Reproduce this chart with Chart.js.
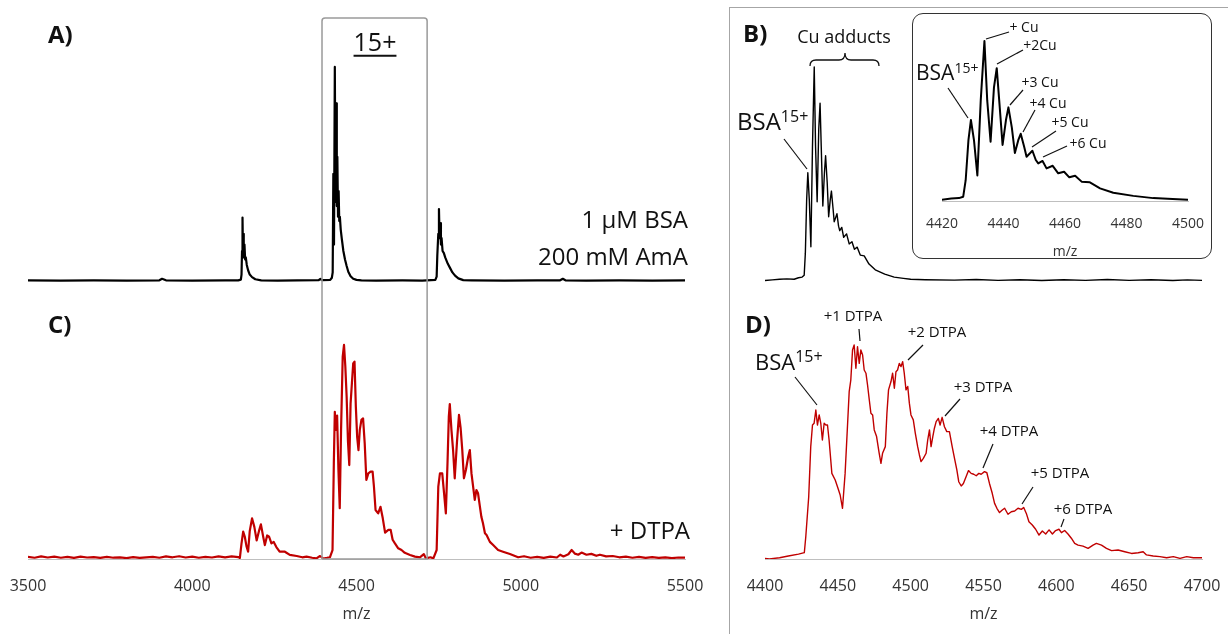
<!DOCTYPE html>
<html>
<head>
<meta charset="utf-8">
<script src="https://cdn.jsdelivr.net/npm/chart.js@4.4.1/dist/chart.umd.min.js"></script>
<style>
  html, body { margin: 0; padding: 0; background: #fff; }
  #page { position: relative; width: 1228px; height: 634px; overflow: hidden; font-family: 'Open Sans', sans-serif; color: #111; }
  canvas { position: absolute; }
  .lbl { position: absolute; white-space: nowrap; line-height: 1; }
  .lbl sup { line-height: 0; }
  #rightFrame { position: absolute; left: 729px; top: 7px; width: 520px; height: 650px; border-left: 1.3px solid #a6a6a6; border-top: 1.3px solid #a6a6a6; }
  #insetBox { position: absolute; left: 912px; top: 13px; width: 298px; height: 244px; border: 1.5px solid #333; border-radius: 11px; background: #fff; }
  #marks { position: absolute; left: 0; top: 0; }
</style>
</head>
<body>
<div id="page">
  <div id="rightFrame"></div>
  <canvas id="left" width="729" height="634" style="left:0;top:0"></canvas>
  <canvas id="right" width="498" height="626" style="left:730px;top:8px"></canvas>
  <div id="insetBox"></div>
  <canvas id="inset" width="297" height="247" style="left:914px;top:15px"></canvas>
  <svg id="marks" width="1228" height="634"></svg>
</div>
<script>
// ---- data: [m/z, relative intensity] ----
// A) 1 uM BSA in 200 mM AmA
const specA = [
  [3500, 0.3], [3600, 0.2], [3700, 0.3], [3800, 0.2], [3900, 0.3], [3908, 1], [3912, 0.8], [3920, 0.3],
  [4000, 0.2], [4100, 0.3], [4140, 0.3], [4148, 0.6], [4150, 3], [4151.5, 14], [4153, 29.6], [4154.5, 12],
  [4156, 22], [4157.5, 11], [4159, 17], [4161, 10], [4163, 11], [4166, 7.5], [4170, 5], [4175, 3],
  [4182, 1.8], [4192, 0.8], [4210, 0.3], [4260, 0.2], [4320, 0.3], [4385, 0.4], [4390, 1], [4395, 0.4],
  [4420, 0.5], [4425, 1.5], [4427.5, 4], [4429.5, 50], [4431.5, 17], [4434, 100], [4436, 37], [4438, 83],
  [4440, 35], [4441.7, 58], [4443.7, 30], [4445.6, 42], [4447.5, 28], [4449.4, 30], [4452, 24], [4455, 20],
  [4460, 14], [4465, 10], [4470, 7], [4475, 4.3], [4482, 2.2], [4490, 1], [4500, 0.5], [4515, 0.3],
  [4560, 0.2], [4640, 0.3], [4700, 0.2], [4740, 0.5], [4744, 2], [4746, 12], [4749, 22], [4751, 33.6],
  [4753, 20], [4755, 27], [4757, 17], [4759, 20], [4762, 14], [4766, 13], [4770, 11], [4778, 8],
  [4785, 6], [4792, 4], [4800, 2.5], [4810, 1.2], [4825, 0.4], [4850, 0.3], [4950, 0.2], [5050, 0.3],
  [5120, 0.3], [5128, 1], [5136, 0.3], [5200, 0.2], [5300, 0.3], [5400, 0.2], [5500, 0.3]
];

// C) + DTPA
const specC = [
  [3500, 1], [3520, 0.6], [3540, 1.2], [3560, 0.7], [3580, 1.1], [3600, 0.6], [3620, 1.0], [3640, 0.5],
  [3660, 1.1], [3680, 0.7], [3700, 0.9], [3720, 0.5], [3740, 1.0], [3760, 0.6], [3780, 0.8], [3800, 0.4],
  [3820, 0.9], [3840, 0.5], [3860, 0.8], [3880, 1.0], [3900, 0.6], [3920, 1.2], [3940, 0.8], [3960, 1.3],
  [3980, 0.7], [4000, 1.1], [4020, 0.6], [4040, 1.0], [4060, 0.7], [4080, 1.2], [4100, 0.8], [4120, 1.2],
  [4140, 0.9], [4145, 0.5], [4150, 7.3], [4155, 12.8], [4160, 10.4], [4165, 6], [4170, 3.4], [4175, 13],
  [4182, 19], [4189, 15], [4196, 8.7], [4203, 13], [4209, 16.2], [4216, 10.4], [4221, 6.5], [4228, 11],
  [4234, 10.4], [4241, 7.3], [4248, 8], [4256, 5.6], [4266, 3.4], [4282, 3.4], [4297, 1.9], [4318, 1.4],
  [4335, 0.8], [4348, 1.1], [4365, 0.6], [4378, 0.3], [4389, 1.4], [4399, 0.2], [4410, 0.5], [4419, 0.8],
  [4427, 4.2], [4431, 44.7], [4434, 68.8], [4437, 60.3], [4441, 67], [4445, 41.6], [4449, 23.7], [4453, 60.3],
  [4458, 94.5], [4462, 100], [4466, 89.9], [4470, 75.8], [4474, 55], [4478, 43.9], [4482, 72.7], [4486, 82.1],
  [4490, 91.4], [4494, 92.2], [4498, 71.2], [4502, 57], [4506, 50.9], [4510, 60.3], [4515, 65], [4520, 65.7],
  [4525, 54], [4530, 36.9], [4536, 40], [4543, 40.8], [4549, 40.8], [4553, 34], [4558, 22.9], [4566, 21.3],
  [4573, 24.4], [4580, 19], [4587, 12.3], [4597, 13.6], [4604, 13.6], [4610, 9], [4617, 7.3], [4627, 5],
  [4637, 4.2], [4647, 2.9], [4663, 1.9], [4678, 1.1], [4693, 0.8], [4705, 2.3], [4711, 0.3], [4725, 0.8],
  [4734, 0.3], [4744, 4.2], [4749, 33.8], [4754, 40], [4761, 40], [4767, 30], [4772, 21.3], [4777, 44.7],
  [4781, 66.5], [4784, 72.4], [4789, 60.3], [4794, 50.9], [4799, 37.7], [4806, 55], [4812, 67.3], [4817, 61.1],
  [4822, 50.9], [4827, 37.7], [4833, 41.6], [4840, 47.8], [4845, 50.9], [4850, 40], [4855, 33.8], [4860, 27.6],
  [4865, 32.2], [4870, 30.7], [4875, 25.2], [4880, 19.8], [4885, 16.7], [4891, 12], [4896, 11.2], [4906, 8],
  [4916, 6.5], [4931, 4.2], [4946, 3.4], [4967, 2.3], [4992, 0.8], [5010, 1.3], [5030, 0.6], [5050, 1.0],
  [5070, 0.5], [5090, 1.1], [5110, 0.7], [5120, 2], [5130, 1.2], [5145, 2.2], [5155, 4.2], [5165, 2.5],
  [5175, 2], [5185, 3], [5200, 2], [5215, 2.4], [5230, 1.5], [5241, 2], [5260, 1.2], [5280, 1.4],
  [5300, 0.8], [5320, 1.1], [5340, 0.6], [5360, 1], [5380, 0.5], [5400, 0.9], [5420, 0.5], [5440, 0.8],
  [5460, 0.4], [5480, 0.7], [5500, 0.6]
];

// B) 15+ with Cu adducts (also used by the inset)
const specB = [
  [4400, 0.2], [4405, 0.5], [4410, 0.8], [4415, 1], [4420, 0.8], [4423, 1.5], [4425.5, 1.8], [4426.9, 2.7],
  [4427.7, 13], [4428.6, 38], [4429.4, 50.6], [4430.4, 38], [4431.5, 16], [4432.6, 63], [4433.8, 100], [4434.7, 63],
  [4435.8, 37], [4436.9, 71], [4437.8, 83], [4438.6, 63], [4439.7, 35], [4440.8, 50.6], [4441.6, 58.5], [4442.7, 46],
  [4443.7, 30], [4444.8, 38], [4445.6, 42], [4446.7, 34], [4447.5, 27.7], [4448.6, 29.8], [4449.4, 31.4], [4450.5, 25.6],
  [4451.3, 23.5], [4452.7, 25], [4454, 20.4], [4456, 22], [4457.8, 17.3], [4459.7, 18.3], [4461.4, 14.8], [4463.3, 15.8],
  [4465.4, 12.1], [4468.1, 11.7], [4471.4, 7.9], [4475.7, 5.2], [4482.2, 3.2], [4488.7, 1.8], [4495, 1.2], [4500, 0.8],
  [4510, 0.6], [4530, 0.4], [4545, 0.7], [4560, 0.3], [4575, 0.6], [4590, 0.2], [4605, 0.6], [4620, 0.3],
  [4635, 0.7], [4650, 0.3], [4665, 0.6], [4680, 0.2], [4690, 0.5], [4700, 0.3]
];

// D) 15+ with DTPA adducts
const specD = [
  [4400, 0.3], [4403, 0], [4410, 0.6], [4416, 1.4], [4423, 2.3], [4427, 3], [4428, 10.4], [4430, 29],
  [4431.4, 52.5], [4432.6, 62.6], [4433.7, 63.4], [4434.9, 69.6], [4436, 62.6], [4437.2, 67.3], [4438.3, 63.4], [4439.4, 55.6],
  [4440.6, 63.4], [4441.8, 62.6], [4442.9, 62.6], [4444, 55.6], [4445.9, 40], [4448.2, 36.9], [4450.5, 32.2], [4451.6, 29.9],
  [4453.2, 23.7], [4455, 40], [4456.6, 61.8], [4457.8, 78.2], [4458.9, 83.6], [4460.1, 97.7], [4461.2, 100], [4462.4, 89.1],
  [4463.5, 99.2], [4464.7, 91.4], [4465.8, 97.7], [4467, 95.3], [4468.1, 88.3], [4469.3, 86.8], [4470.4, 81.3], [4471.6, 74.3],
  [4472.7, 68.1], [4473.9, 67.3], [4475, 60.3], [4476.6, 57.2], [4478.4, 49.4], [4479.6, 44.7], [4480.7, 49.4], [4482.6, 52.5],
  [4483.7, 68.1], [4484.8, 79], [4486.5, 82.9], [4487.6, 86.8], [4488.8, 79.8], [4489.9, 87.5], [4491, 88.3], [4492.2, 91.4],
  [4493.4, 89.9], [4494.5, 92.2], [4495.6, 86.8], [4496.8, 79], [4498, 80.6], [4499.1, 72.8], [4500.2, 67.3], [4501.8, 65],
  [4503.2, 58.7], [4504.8, 52.5], [4506, 48.6], [4507.1, 45.5], [4508.7, 47], [4510.6, 49.4], [4511.7, 55.6], [4512.9, 60.3],
  [4514, 52.5], [4515.2, 57.2], [4516.3, 61.1], [4517.5, 64.2], [4519, 65.7], [4520.2, 62.6], [4521.6, 66.2], [4523.2, 61.8],
  [4524.8, 59.5], [4526.6, 59.5], [4528.5, 52.5], [4530.1, 47], [4531.7, 41.6], [4533, 36.1], [4534.7, 34.1], [4536.2, 35.3],
  [4538.1, 38.5], [4539.7, 41.3], [4541.5, 40], [4543.3, 39.6], [4545, 38.9], [4546.8, 40], [4548.4, 39.6], [4550.7, 40.8],
  [4552.3, 40.3], [4554.1, 35.3], [4556, 30.7], [4557.6, 26], [4559.2, 23.7], [4561, 21.7], [4562.9, 22.9], [4564.5, 23.7],
  [4566.8, 20.9], [4569.1, 22.1], [4571.4, 22.4], [4573.7, 23.7], [4576, 23.2], [4577.6, 24.1], [4579.4, 21.3], [4581.2, 17.4],
  [4583.5, 15.9], [4585.8, 13.9], [4588.1, 11.2], [4590.4, 13.1], [4592.7, 11.7], [4595, 13.6], [4597.3, 11.7], [4599.5, 13.3],
  [4601.8, 13.9], [4603.5, 12.3], [4605.7, 13.3], [4608, 11.7], [4610.3, 9.7], [4612.6, 7.3], [4614.9, 6.5], [4618.3, 6],
  [4621.8, 5], [4625.2, 6.5], [4627.5, 7.3], [4631, 6.5], [4634.4, 5], [4637.9, 3.9], [4642.4, 4.2], [4647, 3.4],
  [4651.6, 2.6], [4656.2, 2.9], [4659.6, 3.4], [4661.9, 1.9], [4666.5, 1.4], [4671.1, 1.1], [4675.7, 0.6], [4680.3, 1.1],
  [4684.9, 0.3], [4689.5, 1.1], [4694.1, 0.6], [4700, 0.6]
];

const leftRange = [3500, 5500];
const rightRange = [4400, 4700];
const insetRange = [4420, 4500];
const leftTicks = 500, rightTicks = 50, insetTicks = 20;
const boxRange = [4395, 4715];   // the "15+" window

// ---- helpers ----
Chart.defaults.font.family = "'Open Sans', sans-serif";
Chart.defaults.color = '#333';
const RED = '#c00000';
const pts = arr => arr.map(p => ({ x: p[0], y: p[1] }));

function line(data, color, width, axis) {
  return { data: pts(data), borderColor: color, borderWidth: width, pointRadius: 0,
           tension: 0, fill: false, yAxisID: axis, borderJoinStyle: 'round' };
}

function xAxis(range, step, fontSize, height, pad) {
  return {
    type: 'linear', position: 'bottom', min: range[0], max: range[1],
    ticks: { stepSize: step, autoSkip: false, maxRotation: 0, padding: pad.tick,
             font: { size: fontSize }, color: '#333', callback: v => String(v) },
    grid: { display: false, drawTicks: false },
    border: { display: true, color: '#bfbfbf', width: 1 },
    title: { display: true, text: 'm/z', color: '#333', font: { size: fontSize },
             padding: { top: pad.top, bottom: pad.bottom } },
    afterFit: s => { s.height = height; s.paddingLeft = 0; s.paddingRight = 0; }
  };
}

const baseOpts = { responsive: false, animation: false, events: [],
  plugins: { legend: { display: false }, tooltip: { enabled: false } } };

// window around the 15+ charge state in the overview
const boxPlugin = {
  id: 'chargeBox',
  afterDatasetsDraw(chart) {
    const { ctx, chartArea, scales } = chart;
    const x0 = scales.x.getPixelForValue(boxRange[0]);
    const x1 = scales.x.getPixelForValue(boxRange[1]);
    const top = 18, bot = chartArea.bottom, r = 3;
    ctx.save();
    ctx.strokeStyle = '#9a9a9a';
    ctx.lineWidth = 1.5;
    ctx.beginPath();
    ctx.moveTo(x0, bot);
    ctx.lineTo(x0, top + r);
    ctx.quadraticCurveTo(x0, top, x0 + r, top);
    ctx.lineTo(x1 - r, top);
    ctx.quadraticCurveTo(x1, top, x1, top + r);
    ctx.lineTo(x1, bot);
    ctx.lineTo(x0, bot);
    ctx.stroke();
    ctx.restore();
  }
};

// ---- left: A (top) and C (bottom) overview 3500-5500 ----
new Chart(document.getElementById('left'), {
  type: 'line',
  data: { datasets: [ line(specA, '#000', 2.2, 'yA'), line(specC, RED, 2.2, 'yC') ] },
  options: Object.assign({}, baseOpts, {
    layout: { padding: { left: 28, right: 44, top: 10, bottom: 0 } },
    scales: {
      x: xAxis(leftRange, leftTicks, 16, 75, { tick: 18, top: 4, bottom: 10 }),
      yA: { display: false, min: -129.9, max: 126.6 },
      yC: { display: false, min: 0, max: 256.5 }
    }
  }),
  plugins: [boxPlugin]
});

// ---- right: B (top, no axis) and D (bottom) 4400-4700 ----
new Chart(document.getElementById('right'), {
  type: 'line',
  data: { datasets: [ line(specB, '#000', 1.4, 'yB'), line(specD, RED, 1.4, 'yD') ] },
  options: Object.assign({}, baseOpts, {
    layout: { padding: { left: 35, right: 26, top: 2, bottom: 0 } },
    scales: {
      x: xAxis(rightRange, rightTicks, 16, 75, { tick: 18, top: 4, bottom: 10 }),
      yB: { display: false, min: -129.9, max: 126.6 },
      yD: { display: false, min: 0, max: 256.5 }
    }
  })
});

// ---- inset of B: 4420-4500 ----
new Chart(document.getElementById('inset'), {
  type: 'line',
  data: { datasets: [ line(specB, '#000', 2, 'y') ] },
  options: Object.assign({}, baseOpts, {
    layout: { padding: { left: 28, right: 23, top: 5, bottom: 0 } },
    scales: {
      x: xAxis(insetRange, insetTicks, 14, 61, { tick: 15, top: 2, bottom: 2 }),
      y: { display: false, min: 0, max: 113.1 }
    }
  })
});

// ---- annotations ----
const page = document.getElementById('page');
function label(html, x, y, size, align, extra) {
  const d = document.createElement('div');
  d.className = 'lbl';
  d.innerHTML = html;
  d.style.fontSize = size + 'px';
  d.style.left = x + 'px';
  d.style.top = y + 'px';
  const tx = align === 'center' ? '-50%' : align === 'right' ? '-100%' : '0';
  d.style.transform = 'translate(' + tx + ', -53%)';
  if (extra) Object.assign(d.style, extra);
  page.appendChild(d);
}
const bsa = (s) => 'BSA<sup style="font-size:' + s + 'px;vertical-align:' + Math.round(s * 0.5) + 'px">15+</sup>';
const bold = { fontWeight: '700' };

label('A)', 48, 35, 24, 'left', bold);
label('C)', 48, 325, 24, 'left', bold);
label('B)', 743, 34, 24, 'left', bold);
label('D)', 745, 325, 24, 'left', bold);
label('15+', 375, 42, 25, 'center', { textDecoration: 'underline', textUnderlineOffset: '4px' });
label('1 µM BSA', 688, 220, 24, 'right');
label('200 mM AmA', 688, 257, 24, 'right');
label('+ DTPA', 690, 531, 24, 'right');
label('Cu adducts', 844, 37, 18, 'center');
label(bsa(16), 737, 122, 24, 'left');
label(bsa(14), 916, 73, 21, 'left');
label(bsa(16), 755, 362, 22, 'left');
label('+ Cu', 1024, 27, 14, 'center');
label('+2Cu', 1040, 45, 14, 'center');
label('+3 Cu', 1040, 82, 14, 'center');
label('+4 Cu', 1048, 103, 14, 'center');
label('+5 Cu', 1070, 122, 14, 'center');
label('+6 Cu', 1088, 143, 14, 'center');
label('+1 DTPA', 853, 316, 15, 'center');
label('+2 DTPA', 937, 332, 15, 'center');
label('+3 DTPA', 983, 387, 15, 'center');
label('+4 DTPA', 1009, 431, 15, 'center');
label('+5 DTPA', 1060, 473, 15, 'center');
label('+6 DTPA', 1083, 509, 15, 'center');

const leaders = [
  [784, 139, 807, 169], [948, 88, 968, 118],
  [1009, 32, 986, 39], [1023, 50, 997, 64], [1023, 90, 1010, 105],
  [1035, 110, 1023, 132], [1056, 131, 1032, 147], [1067, 146, 1043, 157],
  [795, 377, 817, 405], [859, 329, 860, 341], [923, 345, 908, 360],
  [960, 399, 945, 416], [993, 444, 983, 468], [1033, 487, 1022, 504], [1064, 519, 1061, 527]
];
const svg = document.getElementById('marks');
let s = '';
leaders.forEach(l => {
  s += '<line x1="' + l[0] + '" y1="' + l[1] + '" x2="' + l[2] + '" y2="' + l[3] + '" stroke="#111" stroke-width="1.2"/>';
});
// curly brace over the Cu adducts
s += '<path d="M810,66 Q810,60 816,60 L839,60 Q845,60 845,53 Q845,60 851,60 L873,60 Q879,60 879,66" fill="none" stroke="#111" stroke-width="1.3"/>';
svg.innerHTML = s;
</script>
</body>
</html>
